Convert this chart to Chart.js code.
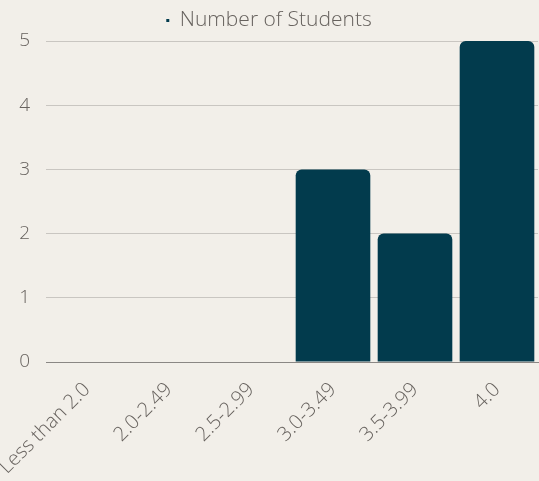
<!DOCTYPE html>
<html>
<head>
<meta charset="utf-8">
<script src="https://cdn.jsdelivr.net/npm/chart.js@4"></script>
<style>
  html, body { margin: 0; padding: 0; background: #f2efe9; }
  #wrap { width: 539px; height: 481px; position: relative; }
</style>
</head>
<body>
<div id="wrap"><canvas id="chart"></canvas></div>
<script>
const categories = ['Less than 2.0', '2.0-2.49', '2.5-2.99', '3.0-3.49', '3.5-3.99', '4.0'];
const studentCounts = [0, 0, 0, 3, 2, 5];
const seriesLabel = 'Number of Students';

const font = "'Open Sans', sans-serif";

new Chart(document.getElementById('chart'), {
  type: 'bar',
  data: {
    labels: categories,
    datasets: [{
      label: seriesLabel,
      data: studentCounts,
      backgroundColor: '#023b4d',
      borderRadius: { topLeft: 6, topRight: 6 },
      borderSkipped: 'bottom',
      barPercentage: 0.91,
      categoryPercentage: 1
    }]
  },
  options: {
    responsive: true,
    maintainAspectRatio: false,
    animation: false,
    layout: { padding: { top: 3, right: 1, left: 0, bottom: 0 } },
    plugins: {
      legend: {
        labels: {
          boxWidth: 3, boxHeight: 3,
          color: '#67625e',
          padding: 7,
          font: { family: font, size: 21, weight: 300 }
        }
      },
      tooltip: { enabled: false }
    },
    scales: {
      x: {
        grid: { display: false },
        border: { color: '#8a8784' },
        ticks: {
          color: '#67625e', maxRotation: 45, minRotation: 45, padding: 8,
          font: { family: font, size: 20, weight: 300 }
        },
        // labels may run past the left edge, as in the original
        afterFit: s => { s.paddingLeft = 0; s.height = 119; }
      },
      y: {
        min: 0, max: 5,
        ticks: {
          stepSize: 1, color: '#67625e', padding: 16,
          font: { family: font, size: 19, weight: 300 }
        },
        grid: { color: '#c9c6c1', drawTicks: false },
        border: { display: false },
        afterFit: s => { s.width = 46; }
      }
    }
  }
});
</script>
</body>
</html>
